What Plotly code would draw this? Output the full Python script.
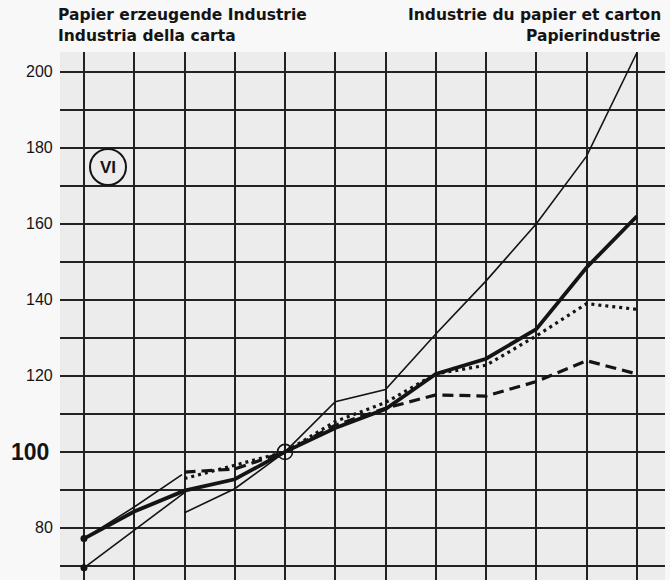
import plotly.graph_objects as go

# ---- data ----
periods = list(range(12))                      # 12 unlabelled periods
y_tick_values = [80, 100, 120, 140, 160, 180, 200]
y_tick_labels = ["80", "100", "120", "140", "160", "180", "200"]

thick_idx = periods
thick_val = [77.2, 84.3, 89.8, 92.8, 100, 106.3, 111.3, 120.5, 124.5, 132.3, 148.5, 162.0]

thin_old_idx = [0, 1, 2]
thin_old_val = [69.5, 79.3, 89.3]
thin_new_idx = [2, 3, 4, 5, 6, 7, 8, 9, 10, 11]
thin_new_val = [84.0, 90.3, 100, 113.2, 116.4, 131.0, 145.0, 160.0, 177.8, 205.0]

thin_short_idx = [0, 1, 1.95]
thin_short_val = [77.2, 85.5, 94.0]

dotted_idx = [2, 3, 4, 5, 6, 7, 8, 9, 10, 11]
dotted_val = [93.0, 96.5, 100, 108.0, 113.0, 120.5, 122.8, 130.5, 139.0, 137.5]

dashed_idx = [2, 3, 4, 5, 6, 7, 8, 9, 10, 11]
dashed_val = [94.7, 95.5, 100, 107.0, 111.5, 115.0, 114.7, 118.5, 124.0, 120.5]

start_points_idx = [0, 0]
start_points_val = [77.2, 69.5]
base_idx = [4]
base_val = [100]

title_left = ["Papier erzeugende Industrie", "Industria della carta"]
title_right = ["Industrie du papier et carton", "Papierindustrie"]
panel_label = "VI"

INK = "#141414"
FONT = "Liberation Sans"
TFONT = "DejaVu Sans"

W, H = 670, 580
L, T = 60, 52
PW, PH = 605, 528

fig = go.Figure()

def line(x, y, width, dash="solid"):
    fig.add_trace(go.Scatter(x=x, y=y, mode="lines",
                             line=dict(color=INK, width=width, dash=dash),
                             hoverinfo="skip", showlegend=False, cliponaxis=False))

line(thin_old_idx, thin_old_val, 1.6)
line(thin_new_idx, thin_new_val, 1.6)
line(thin_short_idx, thin_short_val, 1.6)
line(dotted_idx, dotted_val, 3.2, "3px,4px")
line(dashed_idx, dashed_val, 3.2, "11px,6px")
line(thick_idx, thick_val, 3.8)

fig.add_trace(go.Scatter(x=start_points_idx, y=start_points_val, mode="markers",
                         marker=dict(color=INK, size=7), hoverinfo="skip",
                         showlegend=False, cliponaxis=False))
fig.add_trace(go.Scatter(x=base_idx, y=base_val, mode="markers",
                         marker=dict(symbol="circle-cross-open", color=INK, size=15,
                                     line=dict(width=1.6, color=INK)),
                         hoverinfo="skip", showlegend=False, cliponaxis=False))

def px_x(px):
    return (px - L) / PW

def px_y(py):
    return 1 - (py - T) / PH

annotations = []
for v, t in zip(y_tick_values, y_tick_labels):
    big = (v == 100)
    annotations.append(dict(
        x=0, xref="paper", y=v, yref="y", xanchor="right", yanchor="middle",
        xshift=-9 if big else -5,
        text=f"<b>{t}</b>" if big else t, showarrow=False,
        font=dict(family=FONT, size=23 if big else 16, color=INK)))

for i, t in enumerate(title_left):
    annotations.append(dict(x=px_x(56), xref="paper", y=px_y([15, 36][i]), yref="paper",
                            xanchor="left", yanchor="middle", text=f"<b>{t}</b>",
                            showarrow=False, font=dict(family=TFONT, size=15.5, color=INK)))
for i, t in enumerate(title_right):
    annotations.append(dict(x=px_x(663), xref="paper", y=px_y([15, 36][i]), yref="paper",
                            xanchor="right", yanchor="middle", text=f"<b>{t}</b>",
                            showarrow=False, font=dict(family=TFONT, size=15.5, color=INK)))

# panel label VI inside a circle
annotations.append(dict(x=px_x(108), xref="paper", y=px_y(167), yref="paper",
                        xanchor="center", yanchor="middle", text=f"<b>{panel_label}</b>",
                        showarrow=False, font=dict(family=FONT, size=17, color=INK)))

shapes = [dict(type="circle", xref="paper", yref="paper",
               x0=px_x(90), x1=px_x(126), y0=px_y(185), y1=px_y(149),
               line=dict(color=INK, width=2))]

fig.update_layout(
    width=W, height=H,
    margin=dict(l=L, r=W - L - PW, t=T, b=H - T - PH),
    paper_bgcolor="#f8f8f8", plot_bgcolor="#ececec",
    hovermode=False,
    xaxis=dict(range=[-0.477, 11.56], dtick=1, tick0=0, showgrid=True,
               gridcolor="#222222", gridwidth=1.7, showticklabels=False,
               zeroline=False, showline=False, ticks=""),
    yaxis=dict(range=[66.3, 205.2], dtick=10, tick0=0, showgrid=True,
               gridcolor="#222222", gridwidth=1.7, showticklabels=False,
               zeroline=False, showline=False, ticks=""),
    annotations=annotations, shapes=shapes,
)

fig.write_html("out.html", config={"displayModeBar": False},
               post_script="document.body.style.margin='0';document.body.style.overflow='hidden';")
